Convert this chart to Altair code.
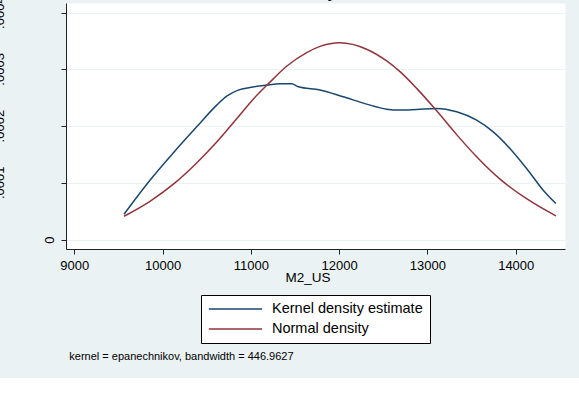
import altair as alt
import pandas as pd

FONT = "Liberation Sans"

# Kernel density estimate of M2_US
kde_x = [9563, 9857, 10140, 10386, 10613, 10726, 10857, 10990, 11179, 11330,
         11462, 11537, 11783, 12046, 12311, 12538, 12689, 12878, 13104, 13331,
         13557, 13745, 13934, 14123, 14311, 14455]
kde_y = [0.0000446, 0.0001046, 0.0001563, 0.0001987, 0.0002370, 0.0002529,
         0.0002635, 0.0002682, 0.0002723, 0.0002746, 0.0002746, 0.0002693,
         0.0002635, 0.0002516, 0.0002388, 0.0002299, 0.0002282, 0.0002294,
         0.0002312, 0.0002252, 0.0002105, 0.0001899, 0.0001606, 0.0001253,
         0.0000870, 0.0000635]

# Normal density with the same mean and standard deviation
norm_x = [9563, 9857, 10140, 10386, 10613, 10839, 11027, 11197, 11405, 11632,
          11783, 12008, 12311, 12538, 12689, 12878, 13085, 13331, 13557, 13822,
          14123, 14455]
norm_y = [0.0000411, 0.0000675, 0.0000999, 0.0001350, 0.0001720, 0.0002130,
          0.0002475, 0.0002745, 0.0003055, 0.0003295, 0.0003405, 0.0003469,
          0.0003355, 0.0003148, 0.0002960, 0.0002665, 0.0002305, 0.0001850,
          0.0001460, 0.0001065, 0.0000720, 0.0000416]

series_names = ["Kernel density estimate", "Normal density"]
series_colors = ["#1A476F", "#90353B"]

x_ticks = [9000, 10000, 11000, 12000, 13000, 14000]
y_ticks = [0, 0.0001, 0.0002, 0.0003, 0.0004]
y_tick_labels = ["0", ".0001", ".0002", ".0003", ".0004"]

title_text = "Kernel density estimate"
note_text = "kernel = epanechnikov, bandwidth = 446.9627"

W, H = 499, 246
BG = "#EAF2F3"

curves = pd.concat([
    pd.DataFrame({"M2_US": kde_x, "density": kde_y, "series": series_names[0]}),
    pd.DataFrame({"M2_US": norm_x, "density": norm_y, "series": series_names[1]}),
], ignore_index=True)

x_scale = alt.Scale(domain=[8906, 14558], nice=False, zero=False)
y_scale = alt.Scale(domain=[-0.0000166, 0.000417], nice=False, zero=False)

lines = alt.Chart(curves).mark_line(strokeWidth=1.5, interpolate="monotone").encode(
    x=alt.X("M2_US:Q", scale=x_scale,
            axis=alt.Axis(values=x_ticks, format="d", title="M2_US", grid=False,
                          domainColor="#222", domainWidth=1.2, tickColor="#222",
                          tickSize=5, labelFont=FONT, labelFontSize=13,
                          labelColor="black", labelBaseline="alphabetic",
                          labelPadding=15, titleFont=FONT, titleFontSize=13.5,
                          titleFontWeight="normal", titleColor="black",
                          titleBaseline="alphabetic", titleX=241.5, titleY=32)),
    y=alt.Y("density:Q", scale=y_scale,
            axis=alt.Axis(values=y_ticks, labelExpr="datum.value == 0 ? '0' : ''",
                          title=None, grid=True, gridColor=BG, gridWidth=1.2,
                          domainColor="#222", tickColor="#222", tickSize=5,
                          labelFont=FONT, labelFontSize=13, labelColor="black",
                          labelAngle=270, labelAlign="center",
                          labelBaseline="alphabetic", labelPadding=8)),
    color=alt.Color("series:N",
                    scale=alt.Scale(domain=series_names, range=series_colors),
                    legend=alt.Legend(title=None, orient="none", legendX=135,
                                      legendY=292, fillColor="white",
                                      strokeColor="black", padding=7,
                                      symbolType="stroke", symbolSize=2841,
                                      symbolStrokeWidth=1.5, clipHeight=14,
                                      labelFont=FONT, labelFontSize=14.5,
                                      labelColor="black", labelOffset=9,
                                      rowPadding=5, labelLimit=300)),
)

# rotated y tick labels sitting at the far left edge
ylab = alt.Chart(pd.DataFrame({"density": y_ticks[1:], "label": y_tick_labels[1:]})).mark_text(
    angle=270, align="center", baseline="alphabetic", font=FONT, fontSize=13,
    color="black"
).encode(
    x=alt.value(-62),
    y=alt.Y("density:Q", scale=y_scale),
    text="label:N",
)

title = alt.Chart(pd.DataFrame({"t": [title_text]})).mark_text(
    align="center", baseline="alphabetic", font=FONT, fontSize=19, color="black"
).encode(x=alt.value(W / 2), y=alt.value(-6), text="t:N")

note = alt.Chart(pd.DataFrame({"t": [note_text]})).mark_text(
    align="left", baseline="alphabetic", font=FONT, fontSize=11, color="black"
).encode(x=alt.value(3.3), y=alt.value(356.5), text="t:N")

# white strip below the graph region
strip = alt.Chart(pd.DataFrame({"k": [0]})).mark_rect(color="white").encode(
    x=alt.value(-66), x2=alt.value(W + 14), y=alt.value(375), y2=alt.value(406)
)

chart = alt.layer(strip, lines, ylab, title, note).properties(
    width=W, height=H,
    autosize="none",
    padding={"left": 66, "top": 3, "right": 14, "bottom": 159},
    background=BG,
).configure_view(fill="white", stroke="transparent")

chart.save("out.html", embed_options={"renderer": "svg", "actions": False})
